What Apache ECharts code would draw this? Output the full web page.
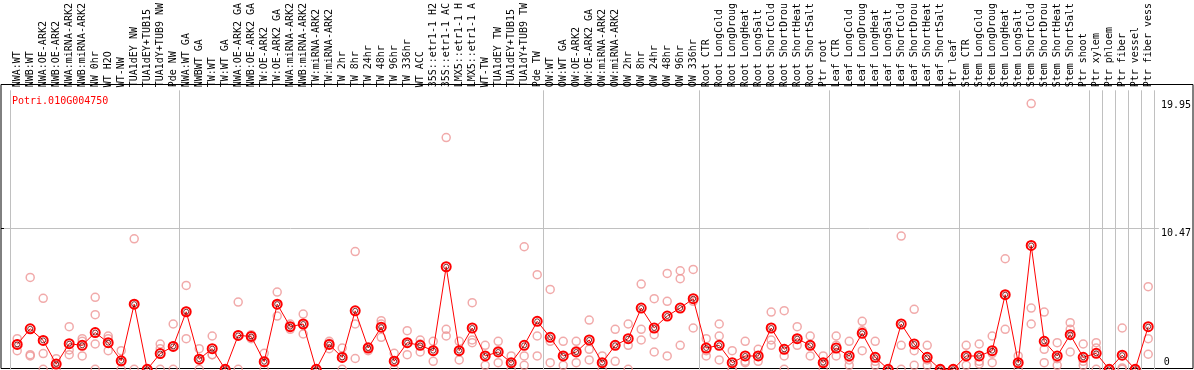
<!DOCTYPE html>
<html><head><meta charset="utf-8">
<script src="https://cdn.jsdelivr.net/npm/echarts@6/dist/echarts.min.js"></script>
<style>html,body{margin:0;padding:0;background:#fff}#c{width:1194px;height:370px}</style>
</head><body><div id="c"></div>
<script>
const geneId = 'Potri.010G004750';
const categories = [
 'NWA:WT','NWB:WT','NWA:OE-ARK2','NWB:OE-ARK2','NWA:miRNA-ARK2','NWB:miRNA-ARK2','NW 0hr','WT H2O','WT-NW','TUA1dEY NW','TUA1dEY+TUB15','TUA1dY+TUB9 NW','Pde NW',
 'NWA:WT GA','NWBWT GA','TW:WT','TW:WT GA','NWA:OE-ARK2 GA','NWB:OE-ARK2 GA','TW:OE-ARK2','TW:OE-ARK2 GA','NWA:miRNA-ARK2','NWB:miRNA-ARK2','TW:miRNA-ARK2','TW:miRNA-ARK2','TW 2hr','TW 8hr','TW 24hr','TW 48hr','TW 96hr','TW 336hr','WT ACC','35S::etr1-1 H2','35S::etr1-1 AC','LMX5::etr1-1 H','LMX5::etr1-1 A','WT-TW','TUA1dEY TW','TUA1dEY+TUB15','TUA1dY+TUB9 TW','Pde TW',
 'OW:WT','OW:WT GA','OW:OE-ARK2','OW:OE-ARK2 GA','OW:miRNA-ARK2','OW:miRNA-ARK2','OW 2hr','OW 8hr','OW 24hr','OW 48hr','OW 96hr','OW 336hr',
 'Root CTR','Root LongCold','Root LongDroug','Root LongHeat','Root LongSalt','Root ShortCold','Root ShortDrou','Root ShortHeat','Root ShortSalt','Ptr root',
 'Leaf CTR','Leaf LongCold','Leaf LongDroug','Leaf LongHeat','Leaf LongSalt','Leaf ShortCold','Leaf ShortDrou','Leaf ShortHeat','Leaf ShortSalt','Ptr leaf',
 'Stem CTR','Stem LongCold','Stem LongDroug','Stem LongHeat','Stem LongSalt','Stem ShortCold','Stem ShortDrou','Stem ShortHeat','Stem ShortSalt','Ptr shoot',
 'Ptr xylem','Ptr phloem','Ptr fiber','Ptr vessel','Ptr fiber vess'
];
const groupStarts = [0, 13, 41, 53, 63, 73, 83, 84, 85, 86, 87];
const meanValues = [
 1.87,3.04,2.17,0.39,1.92,1.8,2.76,2.0,0.64,4.89,0,1.18,1.72,
 4.32,0.76,1.55,0,2.54,2.47,0.57,4.89,3.2,3.4,0,1.87,0.89,4.39,1.6,3.16,0.61,2.0,1.8,1.4,7.7,1.4,3.1,1.0,1.3,0.5,1.8,3.6,
 2.4,1.0,1.3,2.2,0.5,1.8,2.3,4.6,3.1,4.0,4.6,5.3,
 1.6,1.8,0.5,1.0,1.0,3.1,1.5,2.3,1.8,0.5,
 1.6,1.0,2.7,0.9,0,3.4,1.9,0.9,0,0,
 1.0,1.0,1.4,5.6,0.5,9.3,2.1,1.0,2.6,0.9,
 1.2,0,1.06,0,3.2
];
const replicateValues = [
 [2.3,1.9,1.4],[6.9,1.1,1.0],[5.33,1.18,0],[0.8,0.4,0],[3.2,1.45,1.1],[2.3,2.1,1.0],[5.4,4.1,1.9,0],[2.5,2.3,1.4],[1.4,0.55,0],[9.8,4.9,0],[0,0,0],[1.9,1.55,0],[3.4,1.75,0],
 [6.3,4.35,2.3],[1.55,0.75,0],[2.5,1.1,1.1],[0,0,0],[5.05,2.55,0],[2.6,2.5,2.3],[1.2,0.5,0],[5.8,4.85,4.0],[3.4,3.2,3.0],[4.15,3.4,2.65],[0,0,0],[2.1,1.95,1.55],[1.6,1.0,0],[8.84,3.4,0.81],[1.7,1.65,1.4],[3.65,3.4,2.4],[1.2,0.6,0],
 [2.9,2.0,1.1],[2.2,1.9,1.3],[2.1,1.4,0.6],[17.4,3.0,2.5],[2.1,1.4,0.7],[5.0,2.2,2.0],[1.8,1.0,0.3],[2.1,1.4,0.5],[1.0,0.5,0],[9.2,1.0,0.3],[7.1,2.5,1.0],
 [6.0,2.1,0.5],[2.1,1.0,0.3],[2.1,1.4,0.5],[3.7,1.5,0.7],[1.0,0.5,0],[3.0,1.8,0.6],[3.4,1.8,0],[6.4,3.0,2.2],[5.3,2.6,1.3],[7.2,5.1,1.0],[7.4,6.8,1.8],[7.5,5.1,3.1],
 [2.3,1.4,1.0],[3.4,2.5,0.7],[1.4,0,0],[2.1,0.6,0.5],[1.5,1.0,0.6],[4.3,2.2,1.8],[4.4,1.0,0],[3.2,2.3,1.8],[2.5,1.8,1.0],[1.0,0.5,0],
 [2.5,1.8,1.0],[2.1,0.7,0.3],[3.6,2.9,1.4],[2.1,0.6,0.3],[0,0,0],[10.0,1.8,0],[4.5,1.4,0.3],[1.8,0.7,0.3],[0,0,0],[0,0,0],
 [1.8,1.0,0.3],[1.9,0.6,0.4],[2.5,1.2,0.5],[8.3,5.6,3.0],[1.0,0.4,0],[19.95,4.6,3.4],[4.3,1.5,0.5],[2.0,0.8,0.3],[3.5,3.0,1.3],[1.9,0.6,0.3],
 [2.0,1.6,0],[0,0,0],[3.1,0.1,0],[0,0,0],[6.2,2.3,1.13]
];
const yTickLabels = [0, 10.47, 19.95];
const yMax = 20.9475;

const mono = 'DejaVu Sans Mono';
const isGroupStart = (idx) => groupStarts.indexOf(idx) >= 0 || idx >= categories.length;
const repData = [];
replicateValues.forEach((arr, i) => arr.forEach(v => repData.push([i, v])));

const chart = echarts.init(document.getElementById('c'), null, {renderer: 'canvas'});
chart.setOption({
  animation: false,
  title: {text: geneId, left: 7, top: 91, textStyle: {color: '#ff0000', fontFamily: mono, fontSize: 10, fontWeight: 'normal'}},
  grid: [
    {left: 1, right: 1, top: 84.5, bottom: 1.5, show: true, borderColor: '#000', borderWidth: 1, backgroundColor: 'transparent'},
    {left: 1, right: 34, top: 86.6, bottom: 0.7},
    {left: 10.7, right: 39.3, top: 86.6, bottom: 0.7}
  ],
  xAxis: [
    {type: 'value', gridIndex: 0, show: false, min: 0, max: 1},
    {type: 'value', gridIndex: 1, show: false, min: 0, max: 1},
    {type: 'category', gridIndex: 2, data: categories, position: 'top', boundaryGap: true,
     axisLine: {show: false},
     axisTick: {show: true, length: 88, interval: isGroupStart, lineStyle: {color: '#c0c0c0', width: 1}},
     splitLine: {show: true, interval: isGroupStart, lineStyle: {color: '#c0c0c0', width: 1}},
     axisLabel: {rotate: 90, interval: 0, margin: 3, fontFamily: mono, fontSize: 10, color: '#000'}}
  ],
  yAxis: [
    {type: 'value', gridIndex: 0, show: false, min: 0, max: 1},
    {type: 'value', gridIndex: 1, min: 0, max: yMax, position: 'left',
     axisLine: {show: false},
     axisTick: {show: true, inside: true, length: 3, customValues: [yTickLabels[1]], lineStyle: {color: '#000'}},
     splitLine: {show: true, lineStyle: {color: '#c0c0c0', width: 1}},
     axisLabel: {show: false}},
    {type: 'value', gridIndex: 1, min: 0, max: yMax, position: 'right',
     axisLine: {show: false}, axisTick: {show: false}, splitLine: {show: false},
     axisLabel: {show: true, customValues: [yTickLabels[1], yTickLabels[2]], verticalAlign: 'top', align: 'left', margin: 2, fontFamily: mono, fontSize: 10, color: '#000'}},
    {type: 'value', gridIndex: 2, min: 0, max: yMax, position: 'right',
     axisLine: {show: false}, axisTick: {show: false}, splitLine: {show: false},
     axisLabel: {show: true, customValues: [yTickLabels[0]], verticalAlign: 'bottom', align: 'left', margin: 9, padding: [0, 0, 2, 0], fontFamily: mono, fontSize: 10, color: '#000'}}
  ],
  series: [
    {type: 'scatter', xAxisIndex: 2, yAxisIndex: 3, data: repData, symbol: 'circle', symbolSize: 8, z: 2,
     itemStyle: {color: 'rgba(0,0,0,0)', borderColor: '#ee9595', borderWidth: 1.5}, silent: true},
    {type: 'line', xAxisIndex: 2, yAxisIndex: 3, data: meanValues, symbol: 'circle', symbolSize: 9, z: 3,
     lineStyle: {color: '#ff0000', width: 1}, itemStyle: {color: 'rgba(0,0,0,0)', borderColor: '#ff0000', borderWidth: 2}, silent: true},
    {type: 'scatter', xAxisIndex: 2, yAxisIndex: 3, data: meanValues.map((v, i) => [i, v]), symbol: 'circle', symbolSize: 5, z: 4,
     itemStyle: {color: 'rgba(0,0,0,0)', borderColor: '#600000', borderWidth: 1}, silent: true}
  ]
});
</script></body></html>
